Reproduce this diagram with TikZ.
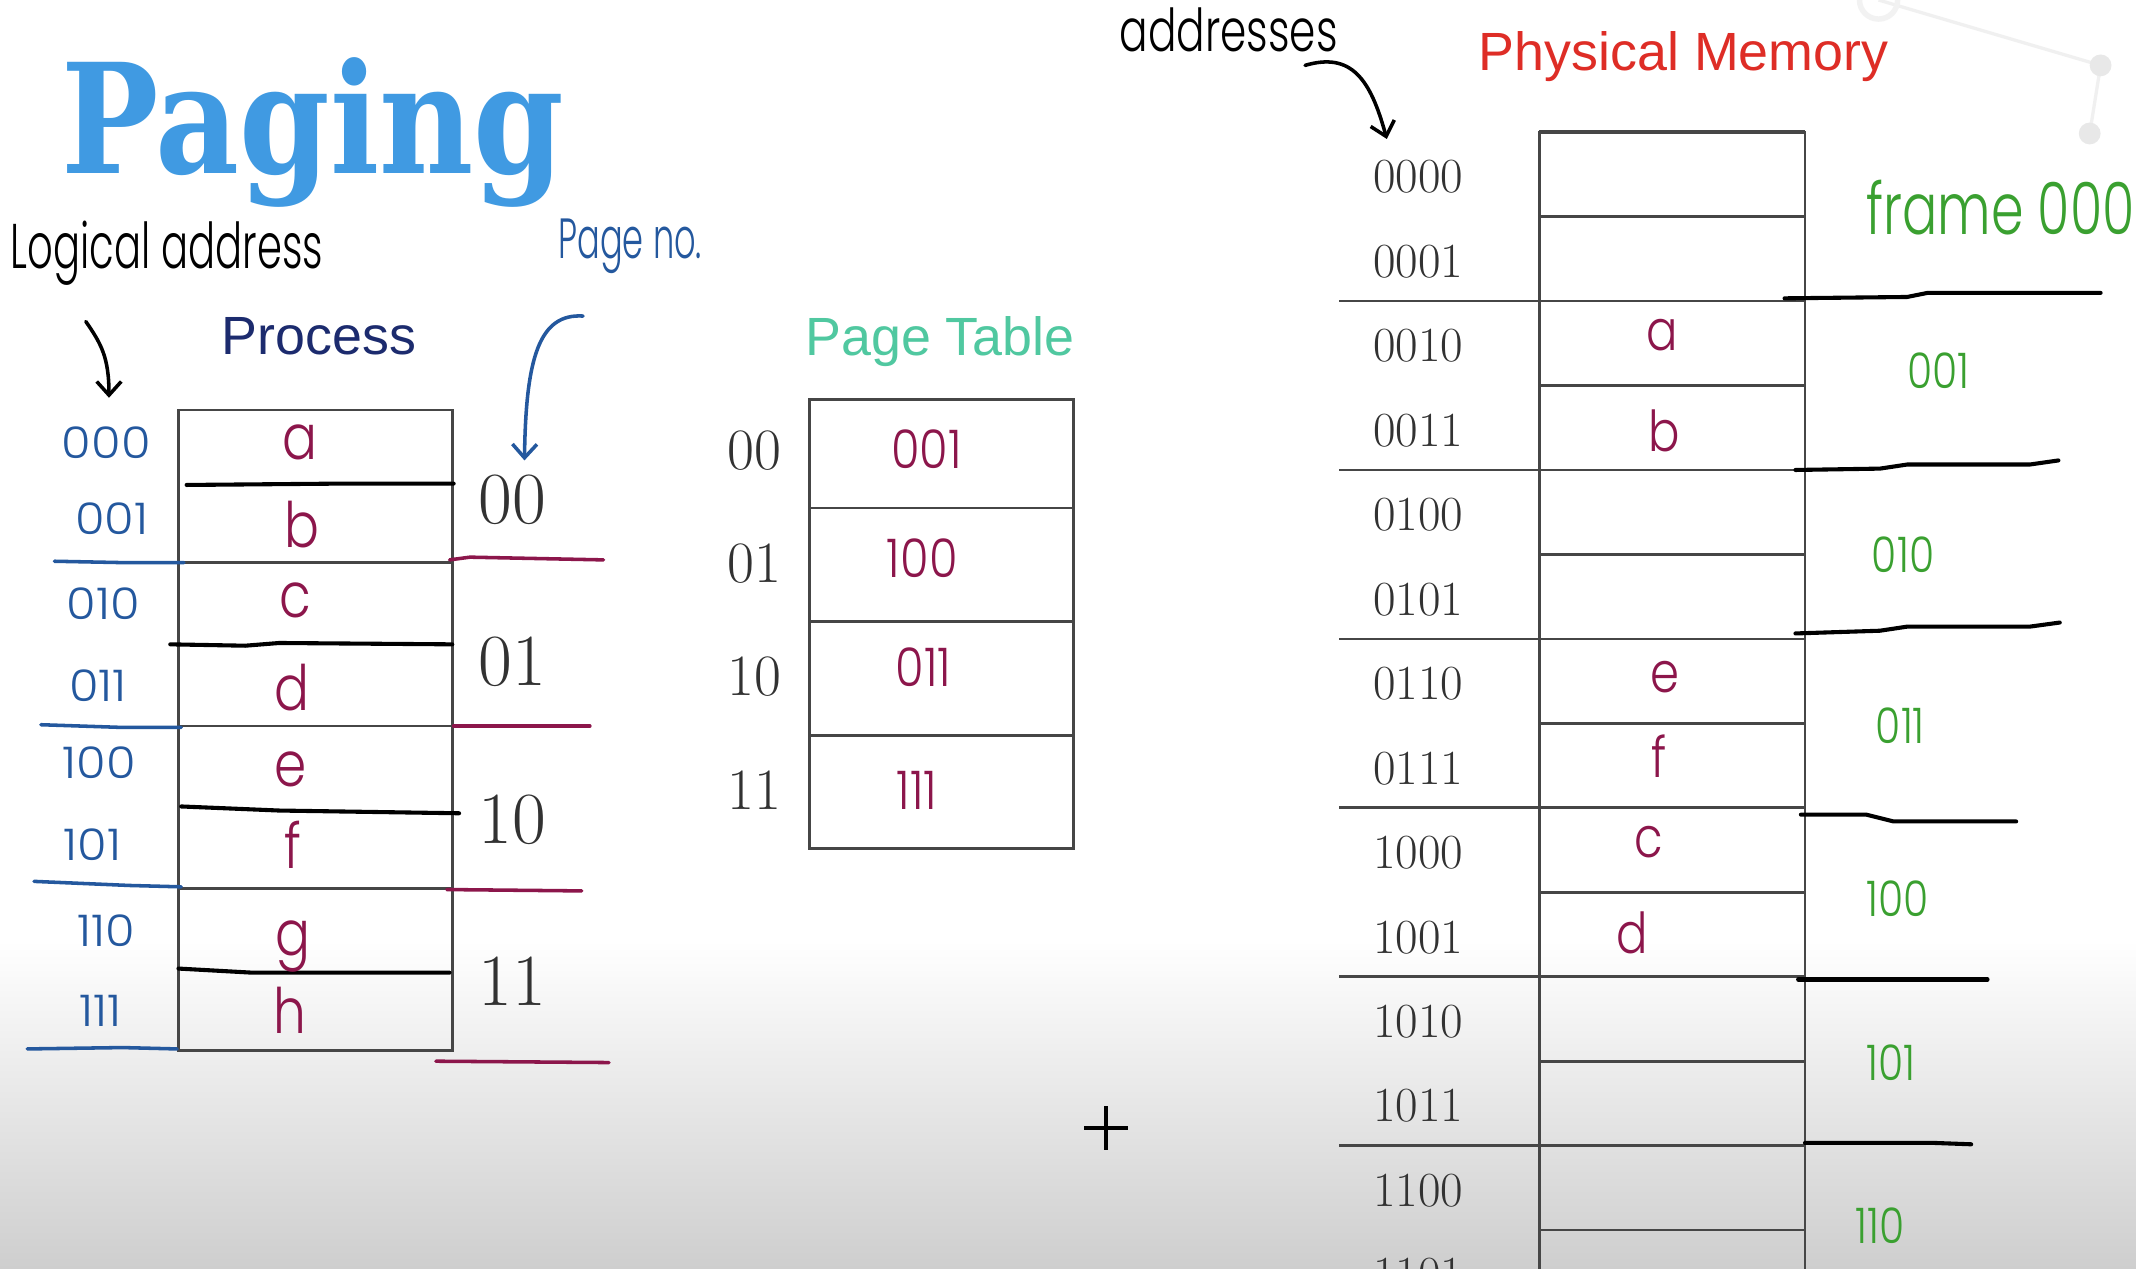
\documentclass[tikz,border=0pt]{standalone}
\usepackage{fontspec}
\usepackage{graphicx}
\usetikzlibrary{arrows.meta}
\IfFontExistsTF{Poppins Light}{\newfontfamily\handfont{Poppins Light}}{\newfontfamily\handfont{Poppins}}
\newfontfamily\sansfnt{Liberation Sans}
\newfontfamily\slabfont{DejaVu Serif}
\definecolor{titleblue}{RGB}{64,154,226}
\definecolor{navy}{RGB}{28,43,110}
\definecolor{ptteal}{RGB}{80,200,160}
\definecolor{memred}{RGB}{222,45,38}
\definecolor{plum}{RGB}{140,22,75}
\definecolor{penblue}{RGB}{36,88,158}
\definecolor{pengreen}{RGB}{58,160,48}
\definecolor{boxgray}{RGB}{70,70,70}
\definecolor{numgray}{RGB}{50,50,50}
\definecolor{bgbottom}{RGB}{206,206,206}
\newcommand\hw[4]{{\handfont\fontsize{#1pt}{#1pt}\selectfont\scalebox{#2}[#3]{#4}}}
\tikzset{
  txt/.style={inner sep=0pt, outer sep=0pt},
  heading/.style={txt, font=\sansfnt\fontsize{19.75pt}{20pt}\selectfont, anchor=base},
  bignum/.style={txt, text=numgray, font=\fontsize{27pt}{27pt}\selectfont},
  ptnum/.style={txt, text=numgray, font=\fontsize{21.5pt}{22pt}\selectfont},
  addrnum/.style={txt, text=numgray, font=\fontsize{18pt}{18pt}\selectfont},
  plumtxt/.style={txt, text=plum},
  bluetxt/.style={txt, text=penblue},
  greentxt/.style={txt, text=pengreen},
  cellbox/.style={draw=boxgray, line width=1pt},
  penline/.style={line width=1.5pt, line cap=round, line join=round},
  blueline/.style={penblue, line width=1.3pt, line cap=round},
  plumline/.style={plum, line width=1.3pt, line cap=round},
  penarrow/.style={line width=1.3pt, line cap=round, -{Straight Barb[length=5pt,width=9pt,line width=1.3pt]}},
}
\begin{document}
\begin{tikzpicture}[x=0.5pt,y=-0.5pt]
\useasboundingbox (0,0) rectangle (1568,931);
\clip (0,0) rectangle (1568,931);
% background
\fill[white] (0,0) rectangle (1568,931);
\shade[top color=white, bottom color=bgbottom] (0,690) rectangle (1568,931.5);
% faint decoration top right
\draw[gray!12, line width=1.2pt] (1379,0) -- (1542,48) -- (1534,98);
\fill[gray!18] (1542,48) circle (8);
\fill[gray!18] (1534,98) circle (8);
\draw[gray!10, line width=2pt] (1379,0) circle (14);

% title
\node[txt, anchor=base west, text=titleblue] (title) at (45,127)
  {\slabfont\bfseries\fontsize{56pt}{56pt}\selectfont\scalebox{0.85}[1]{Paging}};

% ---------- Process ----------
\node[heading, text=navy] (proc) at (234,260) {Process};
\node[txt, anchor=base west] (logaddr) at (8,197) {\hw{16}{0.92}{1.45}{Logical address}};
\coordinate (la1) at (63,236);
\coordinate (la2) at (80,292);
\draw[penarrow] (la1) .. controls (74,252) and (80,262) .. (la2);
\node[txt, anchor=base west, text=penblue] (pageno) at (410,190) {\hw{13}{0.95}{1.6}{Page no.}};
\coordinate (pn1) at (428,232);
\coordinate (pn2) at (385,338);
\draw[penarrow, penblue] (pn1) .. controls (396,230) and (386,262) .. (pn2);

\draw[cellbox] (131,301) rectangle (332,771);
\foreach \y in {413,533,652} \draw[cellbox] (131,\y) -- (332,\y);
\draw[penline] (137,356) -- (250,355) -- (333,355);
\draw[penline] (125,473) -- (180,474) -- (205,472) -- (332,473);
\draw[penline] (133,592) -- (205,595) -- (337,597);
\draw[penline] (131,711) -- (185,714) -- (330,714);

\draw[blueline] (40,412) -- (90,413) -- (135,413);
\draw[blueline] (30,532) -- (90,534) -- (133,534);
\draw[blueline] (25,647) -- (95,650) -- (133,651);
\draw[blueline] (20,770) -- (90,769) -- (130,770);
\draw[plumline] (330,411) -- (345,409) -- (443,411);
\draw[plumline] (333,533) -- (433,533);
\draw[plumline] (328,653) -- (427,654);
\draw[plumline] (320,779) -- (447,780);

\foreach \t/\x/\y [count=\i] in {a/220/325, b/222/385, c/217/441, d/214/505, e/213/565, f/215/620, g/215/695, h/213/742}
  \node[plumtxt] (pl\i) at (\x,\y) {\hw{20}{0.95}{1.15}{\t}};
\foreach \t/\x/\y [count=\i] in {000/78/325, 001/82/381, 010/76/443, 011/72/503, 100/73/560, 101/68/620, 110/78/683, 111/74/742}
  \node[bluetxt] (lg\i) at (\x,\y) {\hw{16}{1.1}{1}{\t}};
\foreach \t/\y [count=\i] in {00/367, 01/486, 10/602, 11/720}
  \node[bignum] (pg\i) at (376,\y) {\t};

% ---------- Page Table ----------
\node[heading, text=ptteal] (pthead) at (690,261) {Page Table};
\draw[cellbox] (594,293) rectangle (788,623);
\foreach \y in {373,456,540} \draw[cellbox] (594,\y) -- (788,\y);
\foreach \t/\y [count=\i] in {00/331, 01/414, 10/497, 11/580}
  \node[ptnum] (pt\i) at (554,\y) {\t};
\foreach \t/\x/\y [count=\i] in {001/680/330, 100/677/410, 011/678/490, 111/673/580}
  \node[plumtxt] (pe\i) at (\x,\y) {\hw{17}{1}{1.15}{\t}};

% ---------- Physical Memory ----------
\node[heading, text=memred] (pmhead) at (1236,52) {Physical Memory};
\node[txt, anchor=base west] (addrs) at (822,38) {\hw{15.5}{1}{1.4}{addresses}};
\coordinate (ad1) at (958,48);
\coordinate (ad2) at (1018,102);
\draw[penarrow] (ad1) .. controls (992,38) and (1006,58) .. (ad2);

\draw[cellbox] (1130,960) -- (1130,97) -- (1325,97) -- (1325,960);
\draw[boxgray, line width=1.6pt] (1130,97) -- (1325,97);
\foreach \k in {1,3,5,7,9,11,13} \draw[cellbox] (1130,97+62*\k) -- (1325,97+62*\k);
\foreach \k in {2,4,6,8,10,12} \draw[cellbox] (983,97+62*\k) -- (1325,97+62*\k);
\foreach \a [count=\i from 0] in {0000,0001,0010,0011,0100,0101,0110,0111,1000,1001,1010,1011,1100,1101}
  \node[addrnum] (m\i) at (1041,{130+62*\i}) {\a};
\foreach \t/\x/\y [count=\i] in {a/1220/246, b/1222/316, e/1222/497, f/1218/555, c/1210/618, d/1198/685}
  \node[plumtxt] (ml\i) at (\x,\y) {\hw{18}{0.95}{1.15}{\t}};

\node[txt, anchor=base west, text=pengreen] (frame) at (1370,172) {\hw{24}{0.8}{1.1}{frame 000}};
\foreach \t/\x/\y [count=\i] in {001/1423/272, 010/1397/407, 011/1395/533, 100/1393/660, 101/1388/780, 110/1380/900}
  \node[greentxt] (fr\i) at (\x,\y) {\hw{15}{1}{1.2}{\t}};

\draw[penline] (1310,219) -- (1400,218) -- (1415,215) -- (1542,215);
\draw[penline] (1318,345) -- (1380,344) -- (1400,341) -- (1490,341) -- (1511,338);
\draw[penline] (1318,465) -- (1380,463) -- (1400,460) -- (1490,460) -- (1512,457);
\draw[penline] (1322,598) -- (1370,598) -- (1390,603) -- (1480,603);
\draw[penline] (1320,719) -- (1459,719);
\draw[penline] (1325,839) -- (1420,839) -- (1447,840);

% cursor
\node[txt] (cursor) at (812,828) {};
\draw[line width=1.6pt] (796,828) -- (828,828);
\draw[line width=1.6pt] (812,812) -- (812,844);
\end{tikzpicture}
\end{document}
